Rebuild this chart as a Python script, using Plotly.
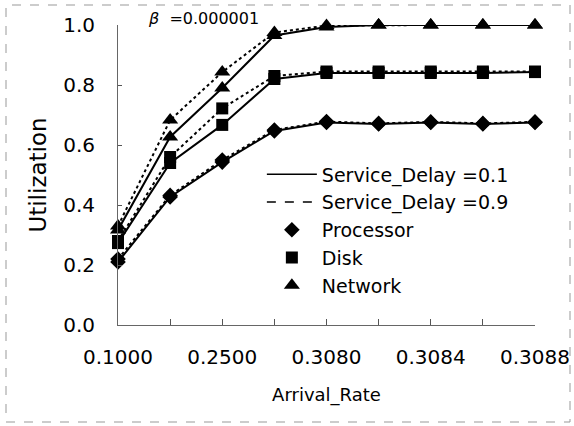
import plotly.graph_objects as go

# Arrival_Rate tick labels (only every other category is labelled in the original)
arrival_rate_labels = ["0.1000", "", "0.2500", "", "0.3080", "", "0.3084", "", "0.3088"]
x_idx = list(range(len(arrival_rate_labels)))

# Utilization, Service_Delay = 0.1 (solid)
processor_01 = [0.21, 0.427, 0.543, 0.647, 0.675, 0.670, 0.675, 0.670, 0.675]
disk_01      = [0.273, 0.540, 0.667, 0.820, 0.840, 0.840, 0.840, 0.840, 0.843]
network_01   = [0.317, 0.627, 0.790, 0.965, 0.993, 1.000, 1.000, 1.000, 1.000]

# Utilization, Service_Delay = 0.9 (dashed)
processor_09 = [0.22, 0.432, 0.550, 0.650, 0.678, 0.672, 0.677, 0.672, 0.677]
disk_09      = [0.280, 0.560, 0.722, 0.830, 0.845, 0.845, 0.845, 0.845, 0.845]
network_09   = [0.330, 0.683, 0.843, 0.975, 0.998, 1.000, 1.000, 1.000, 1.000]

FONT = "DejaVu Sans, Liberation Sans, sans-serif"
fig = go.Figure()

series = [
    (processor_01, "diamond", 12, "solid"),
    (disk_01, "square", 12, "solid"),
    (network_01, "triangle-up", 14, "solid"),
    (processor_09, "diamond", 12, "dot"),
    (disk_09, "square", 12, "dot"),
    (network_09, "triangle-up", 14, "dot"),
]
for ys, sym, sz, dash in series:
    fig.add_trace(go.Scatter(
        x=x_idx, y=ys, mode="lines+markers", showlegend=False, cliponaxis=False,
        line=dict(color="black", width=2, dash=dash),
        marker=dict(symbol=sym, size=sz, color="black"),
    ))

# legend entries
fig.add_trace(go.Scatter(x=[None], y=[None], mode="lines", name="Service_Delay =0.1",
                         line=dict(color="black", width=1.5, dash="solid")))
fig.add_trace(go.Scatter(x=[None], y=[None], mode="lines", name="Service_Delay =0.9",
                         line=dict(color="black", width=1.5, dash="dash")))
fig.add_trace(go.Scatter(x=[None], y=[None], mode="markers", name="Processor",
                         marker=dict(symbol="diamond", size=12, color="black")))
fig.add_trace(go.Scatter(x=[None], y=[None], mode="markers", name="Disk",
                         marker=dict(symbol="square", size=12, color="black")))
fig.add_trace(go.Scatter(x=[None], y=[None], mode="markers", name="Network",
                         marker=dict(symbol="triangle-up", size=14, color="black")))

fig.update_layout(
    width=574, height=426,
    margin=dict(l=118, r=39, t=25, b=101),
    paper_bgcolor="white", plot_bgcolor="white",
    font=dict(family=FONT, color="black", size=19),
    showlegend=True,
    legend=dict(x=0.345, y=0.565, xanchor="left", yanchor="top",
                bgcolor="rgba(0,0,0,0)", font=dict(size=19), itemwidth=50,
                tracegroupgap=0),
    xaxis=dict(
        range=[0, len(arrival_rate_labels) - 1],
        tickvals=x_idx, ticktext=arrival_rate_labels,
        ticks="inside", ticklen=6, tickcolor="#555",
        showline=True, linecolor="#666", linewidth=1,
        showgrid=False, zeroline=False, automargin=False,
        ticklabelstandoff=14, tickfont=dict(size=20),
        title=dict(text="Arrival_Rate", font=dict(size=18), standoff=20),
    ),
    yaxis=dict(
        range=[0, 1.0], dtick=0.2, tickformat=".1f",
        ticks="inside", ticklen=4, tickcolor="#555",
        showline=True, linecolor="#666", linewidth=1,
        showgrid=False, zeroline=False, automargin=False,
        ticklabelstandoff=18, tickfont=dict(size=20),
        title=dict(text="Utilization", font=dict(size=23), standoff=10),
    ),
    annotations=[dict(
        xref="paper", yref="paper", x=0.068, y=1.0, xanchor="left", yanchor="middle",
        yshift=7,
        text="<i>β</i>  =0.000001", showarrow=False, font=dict(size=16),
    )],
    shapes=[dict(
        type="rect", xref="paper", yref="paper",
        x0=-112 / 417, x1=1 + 35 / 417, y0=-97 / 300, y1=1 + 20 / 300,
        line=dict(color="#999", width=1, dash="dash"),
    )],
)

fig.write_html("out.html")
